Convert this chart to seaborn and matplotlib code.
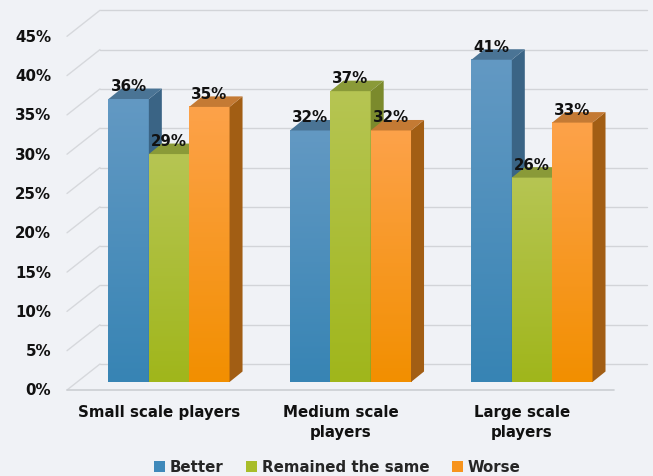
import numpy as np
import pandas as pd
import matplotlib
matplotlib.use("Agg")
import matplotlib.pyplot as plt
import seaborn as sns
from matplotlib.transforms import ScaledTranslation, IdentityTransform
from matplotlib.patches import Polygon, Patch
from matplotlib.colors import LinearSegmentedColormap
from matplotlib.lines import Line2D

# ---------------- data ----------------
categories = ["Small scale players", "Medium scale\nplayers", "Large scale\nplayers"]
series = ["Better", "Remained the same", "Worse"]
better = [36, 32, 41]
remained = [29, 37, 26]
worse = [35, 32, 33]
yticks = [0, 5, 10, 15, 20, 25, 30, 35, 40, 45]
ytick_labels = [f"{v}%" for v in yticks]

# ---------------- style ----------------
BG = "#F0F2F6"
front_top = ["#6399C3", "#B6C553", "#FDA24A"]
front_bot = ["#3784B4", "#A0B61B", "#F28F00"]
side_col = ["#3A6485", "#7B8A2C", "#A25E14"]
top_col = ["#4A7495", "#8A9A38", "#C47A34"]
legend_col = ["#3F89BA", "#A8BD2A", "#F7941D"]
GRID = "#D2D4D8"

sns.set_theme(style="white")
plt.rcParams["font.family"] = ["DejaVu Sans"]
plt.rcParams["font.weight"] = "bold"

DPI = 100
fig = plt.figure(figsize=(6.53, 4.77), dpi=DPI, facecolor=BG)
W, H = 653, 477
ax = fig.add_axes([77 / W, 94 / H, 547 / W, 353.7 / H])
ax.set_facecolor("none")

df = pd.DataFrame({
    "category": categories * 3,
    "series": np.repeat(series, 3),
    "value": better + remained + worse,
})

sns.barplot(data=df, x="category", y="value", hue="series", palette=legend_col,
            width=0.667, gap=0, saturation=1, ax=ax, legend=False,
            edgecolor="none", linewidth=0)

XL = (-0.507, 2.507)
YL = (0, 45)
ax.set_xlim(*XL)
ax.set_ylim(*YL)
ax.set_axis_off()

def off(dx, dy):
    return ScaledTranslation(dx / DPI, dy / DPI, fig.dpi_scale_trans)

# offsets (display px, y up) relative to bar front plane
FRONT = (-10, -8)
BACK = (23, 18)
DEPTH = (13, 10.5)

ytrans = ax.get_yaxis_transform()
# back wall gridlines
for v in yticks:
    ax.add_line(Line2D([0, 1], [v, v], transform=ytrans + off(*BACK),
                       color=GRID, lw=1.0, zorder=1, clip_on=False))
# side wall diagonals
for v in yticks:
    p1 = (ytrans + off(*FRONT)).transform((0, v))
    p2 = (ytrans + off(*BACK)).transform((0, v))
    ax.add_line(Line2D([p1[0], p2[0]], [p1[1], p2[1]], transform=IdentityTransform(),
                       color="#D6D8DC", lw=1.0, zorder=1, clip_on=False))
# front floor line
ax.add_line(Line2D([0, 1], [0, 0], transform=ytrans + off(*FRONT),
                   color="#CBCED2", lw=1.2, zorder=1, clip_on=False))

# y tick labels on front plane
for v, lab in zip(yticks, ytick_labels):
    ax.text(0, v, lab, transform=ytrans + off(-26, -8), ha="right", va="center",
            fontsize=10.8, fontweight="bold", color="#111111")

# category labels
for i, lab in enumerate(categories):
    ax.text(i, 0, lab, transform=ax.transData + off(-10, -22), ha="center", va="top",
            fontsize=10.8, fontweight="bold", color="#111111", linespacing=1.4)

# 3D bars
to_disp = ax.transData.transform
grad = np.linspace(0, 1, 256).reshape(-1, 1)
for k, cont in enumerate(ax.containers):
    cmap = LinearSegmentedColormap.from_list(f"g{k}", [front_bot[k], front_top[k]])
    zf = 10 + 3 * k
    for i, rect in enumerate(cont):
        x0, w, h = rect.get_x(), rect.get_width(), rect.get_height()
        rect.set_zorder(zf)
        ax.imshow(grad, extent=(x0, x0 + w, 0, h), origin="lower", cmap=cmap,
                  aspect="auto", interpolation="bilinear", zorder=zf + 0.5)
        (X0, Y0), (X1, Y1) = to_disp([(x0, 0), (x0 + w, h)])
        dx, dy = DEPTH
        side = [(X1, Y0), (X1 + dx, Y0 + dy), (X1 + dx, Y1 + dy), (X1, Y1)]
        top = [(X0, Y1), (X1, Y1), (X1 + dx, Y1 + dy), (X0 + dx, Y1 + dy)]
        ax.add_patch(Polygon(side, closed=True, transform=IdentityTransform(),
                             facecolor=side_col[k], edgecolor="none", zorder=zf + 1, clip_on=False))
        ax.add_patch(Polygon(top, closed=True, transform=IdentityTransform(),
                             facecolor=top_col[k], edgecolor="none", zorder=zf + 1, clip_on=False))
        ax.text(x0 + w / 2, h, f"{h:.0f}%", transform=ax.transData + off(0, 9),
                ha="center", va="baseline", fontsize=10.8, fontweight="bold",
                color="#111111", zorder=50)

ax.set_xlim(*XL)
ax.set_ylim(*YL)

handles = [Patch(facecolor=c, edgecolor="none") for c in legend_col]
fig.legend(handles, series, loc="center", bbox_to_anchor=(337 / W, 9 / H), ncol=3,
           frameon=False, handlelength=0.75, handleheight=0.75, handletextpad=0.3,
           columnspacing=1.5, prop={"size": 10.8, "weight": "bold"})

fig.savefig("out.png", dpi=DPI, facecolor=BG)
